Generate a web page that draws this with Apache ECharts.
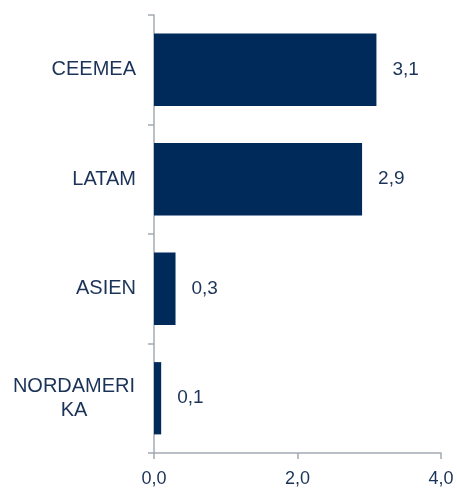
<!DOCTYPE html>
<html><head><meta charset="utf-8">
<script src="https://cdn.jsdelivr.net/npm/echarts@6/dist/echarts.min.js"></script>
<style>html,body{margin:0;padding:0;background:#fff}#c{width:457px;height:488px}</style>
</head><body><div id="c"></div>
<script>
const categories = ['CEEMEA', 'LATAM', 'ASIEN', 'NORDAMERIKA'];
const values = [3.1, 2.9, 0.3, 0.1];
const xTicks = [0, 2, 4];

const chart = echarts.init(document.getElementById('c'), null, {renderer: 'canvas'});
const textColor = '#1B3358';
const axisColor = '#A3ABB3';
const ff = 'Liberation Sans, Arial';
chart.setOption({
  animation: false,
  grid: {left: 154, right: 16, top: 15, bottom: 33, containLabel: false},
  xAxis: {
    type: 'value', min: 0, max: 4, interval: 2,
    axisLine: {show: true, lineStyle: {color: axisColor, width: 1.5}},
    axisTick: {show: true, length: 6, lineStyle: {color: axisColor, width: 1.5}},
    splitLine: {show: false},
    axisLabel: {color: textColor, fontSize: 18, fontFamily: ff, margin: 17,
      formatter: v => v.toFixed(1).replace('.', ',')}
  },
  yAxis: {
    type: 'category', data: categories, inverse: true,
    axisLine: {show: true, lineStyle: {color: axisColor, width: 1.5}},
    axisTick: {show: true, length: 6, lineStyle: {color: axisColor, width: 1.5}},
    axisLabel: {color: textColor, fontSize: 20, fontFamily: ff, margin: 18,
      lineHeight: 24,
      formatter: v => v.length > 9 ? '{c|' + v.slice(0, 9) + '}\n{c|' + v.slice(9) + '}' : v,
      rich: {c: {width: 124, align: 'center', color: textColor, fontSize: 20, fontFamily: ff, lineHeight: 24}}
    }
  },
  series: [{
    type: 'bar', data: values, barWidth: '66%',
    itemStyle: {color: '#002A5A'},
    label: {show: true, position: 'right', distance: 16, color: textColor, fontSize: 19,
      fontFamily: ff,
      formatter: p => p.value.toFixed(1).replace('.', ',')}
  }]
});
</script></body></html>
